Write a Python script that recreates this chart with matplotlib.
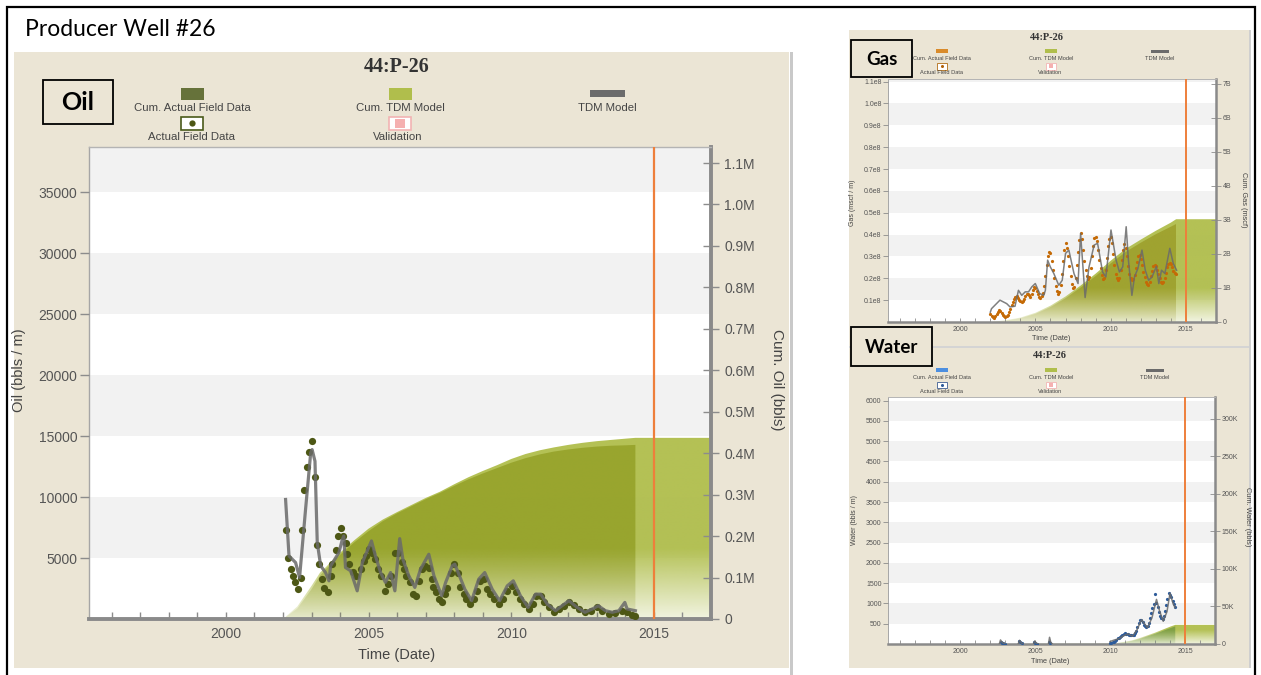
import numpy as np
import matplotlib
matplotlib.use("Agg")
import matplotlib.pyplot as plt
import matplotlib.transforms as mtransforms
from matplotlib.patches import Rectangle
from matplotlib.lines import Line2D
from matplotlib.colors import to_rgb

plt.rcParams['font.family'] = ['Liberation Sans', 'DejaVu Sans']

##################### PLOT SETTINGS #####################
W, H = 1261, 675
BEIGE = '#ebe5d5'
BAND = '#f2f2f2'
TICK_GRAY = '#8c8c8c'
LABEL_GRAY = '#555555'
TEXT_GRAY = '#444444'
TDM_GREEN = '#b0be4c'
LINE_GRAY = '#6a6a6a'
CUTOFF = '#ee7f3b'
X_RANGE = (1995.2, 2017.0)
CUTOFF_YEAR = 2015

BIG = dict(fs=10, thin=1.0, thick=2.8, tw=1.0, out=6.5, inout=12, xlen=5, xpad=6,
           lpad=2, rpad=3.5, ms=5.2, lw=2.3, cut=1.6)
SMALL = dict(fs=5, thin=0.7, thick=1.8, tw=0.6, out=3.6, inout=7, xlen=3, xpad=3,
             lpad=1, rpad=1.5, ms=2.3, lw=1.1, cut=1.4)
###################################################################

# ---------------- Oil (bbls / month, cumulative bbls) ----------------
oil_t = [2002.09, 2002.18, 2002.27, 2002.35, 2002.42, 2002.53, 2002.62, 2002.67, 2002.74, 2002.84,
         2002.91, 2003.00, 2003.12, 2003.20, 2003.26, 2003.35, 2003.43, 2003.59, 2003.67, 2003.73,
         2003.87, 2003.94, 2004.02, 2004.10, 2004.19, 2004.25, 2004.33, 2004.45, 2004.57, 2004.72,
         2004.84, 2004.92, 2005.01, 2005.13, 2005.24, 2005.34, 2005.45, 2005.57, 2005.69, 2005.77,
         2005.92, 2006.04, 2006.16, 2006.24, 2006.32, 2006.44, 2006.55, 2006.65, 2006.76, 2006.88,
         2006.97, 2007.11, 2007.21, 2007.25, 2007.37, 2007.46, 2007.56, 2007.67, 2007.76, 2007.87,
         2007.99, 2008.14, 2008.22, 2008.34, 2008.42, 2008.57, 2008.69, 2008.81, 2008.92, 2009.04,
         2009.16, 2009.27, 2009.39, 2009.57, 2009.71, 2009.86, 2010.01, 2010.15, 2010.29, 2010.44,
         2010.62, 2010.76, 2010.87, 2011.03, 2011.14, 2011.32, 2011.49, 2011.67, 2011.84, 2012.02,
         2012.19, 2012.37, 2012.58, 2012.78, 2013.01, 2013.19, 2013.42, 2013.65, 2013.89, 2014.06,
         2014.24, 2014.35]
oil_q = [7270, 5040, 4090, 3540, 3050, 2450, 3350, 7270, 10570, 12470,
         13700, 14570, 11660, 6050, 4490, 3270, 2560, 2180, 3490, 4550,
         5640, 6810, 7460, 6810, 6260, 5310, 4550, 3890, 3540, 4090,
         4770, 5170, 5720, 5450, 4900, 4090, 3540, 2310, 2860, 3490,
         5390, 5450, 4710, 4090, 3540, 3000, 2040, 1910, 3130, 4090,
         4360, 4220, 3270, 2640, 2180, 1630, 1360, 2040, 2510, 3810,
         4490, 3810, 2590, 2040, 1630, 1230, 1630, 2310, 3130, 3270,
         2450, 2040, 1630, 1230, 1630, 2310, 2720, 2180, 1630, 1230,
         820, 1230, 1910, 1910, 1360, 950, 600, 820, 1090, 1420,
         1140, 820, 550, 680, 950, 680, 410, 490, 680, 550,
         330, 270]

oil_tdm_t = [2002.09, 2002.21, 2002.44, 2002.58, 2002.79, 2002.97, 2003.02, 2003.12, 2003.20, 2003.32,
             2003.49, 2003.61, 2003.67, 2003.96, 2004.08, 2004.13, 2004.19, 2004.37, 2004.60, 2004.78,
             2004.95, 2005.10, 2005.24, 2005.42, 2005.59, 2005.77, 2005.92, 2006.09, 2006.20, 2006.41,
             2006.62, 2006.82, 2007.11, 2007.29, 2007.56, 2007.70, 2007.93, 2008.02, 2008.16, 2008.37,
             2008.61, 2008.86, 2009.07, 2009.33, 2009.59, 2009.86, 2010.07, 2010.32, 2010.59, 2010.85,
             2011.03, 2011.26, 2011.55, 2011.78, 2012.02, 2012.31, 2012.58, 2012.84, 2013.05, 2013.30,
             2013.54, 2013.77, 2013.98, 2014.06, 2014.35]
oil_tdm_q = [9800, 5170, 4630, 3400, 8990, 13620, 13890, 12940, 6260, 4360,
             3810, 3130, 4360, 5450, 6540, 6810, 4220, 3950, 2310, 4630,
             5580, 6400, 5170, 3810, 3000, 3810, 2310, 6590, 4900, 3540,
             2590, 4090, 5310, 3540, 1910, 3000, 4360, 4490, 3680, 2450,
             1500, 3270, 3810, 2450, 1500, 2720, 3130, 1910, 950, 2040,
             2040, 1230, 680, 1090, 1500, 950, 550, 820, 1090, 680,
             550, 680, 1360, 820, 680]

oil_cum_t = [2002.0, 2002.5, 2003.0, 2003.3, 2003.5, 2004.0, 2004.5, 2005.0, 2005.5, 2006.0,
             2006.5, 2007.0, 2007.5, 2008.0, 2008.5, 2009.0, 2009.5, 2010.0, 2010.5, 2011.0,
             2011.5, 2012.0, 2012.5, 2013.0, 2013.5, 2014.0, 2014.35, 2017.0]
oil_cum_tdm = [0, 30e3, 80e3, 112e3, 125e3, 160e3, 190e3, 218e3, 240e3, 258e3,
               275e3, 292e3, 307e3, 325e3, 342e3, 357e3, 371e3, 386e3, 398e3, 407e3,
               414e3, 420e3, 425e3, 429e3, 432e3, 435e3, 437e3, 437e3]
oil_cum_act = [0, 25e3, 72e3, 105e3, 120e3, 155e3, 185e3, 212e3, 236e3, 255e3,
               272e3, 289e3, 304e3, 321e3, 337e3, 351e3, 364e3, 377e3, 388e3, 397e3,
               404e3, 409e3, 413e3, 416e3, 418e3, 419e3, 420e3]

# ---------------- Gas (mscf / month, cumulative mscf) ----------------
# monthly values from Jan 2002, in millions of mscf
gas_q_mm = [3.6, 2.8, 2.2, 2.0, 2.6, 3.6, 4.6, 5.4, 5.0, 4.2, 3.4, 2.8,
            2.4, 2.6, 3.4, 4.6, 6.0, 7.6, 9.0, 10.4, 11.4, 11.8, 11.0, 10.2,
            9.4, 9.0, 9.6, 10.6, 11.8, 12.6, 13.0, 12.4, 11.6, 12.8, 14.6, 16.2,
            15.4, 14.0, 12.6, 11.6, 11.0, 11.8, 13.4, 16.6, 21.0, 26.0, 30.4, 32.0,
            31.5, 28.0, 24.0, 20.0, 16.5, 14.0, 12.8, 13.5, 17.0, 22.0, 28.0, 33.0,
            36.0, 34.0, 30.0, 25.5, 21.0, 17.5, 15.5, 16.0, 20.0, 26.0, 32.0, 37.5,
            40.5, 38.0, 33.0, 28.0, 24.0, 21.0, 19.5, 20.5, 24.5, 30.0, 35.0, 38.5,
            39.0, 37.0, 33.0, 28.5, 24.5, 21.5, 19.5, 20.0, 24.0, 29.5, 35.0, 38.0,
            39.0, 36.0, 31.0, 26.0, 22.0, 20.0, 19.0, 20.0, 24.0, 28.5, 33.0, 35.5,
            34.0, 30.0, 25.5, 22.0, 20.0, 19.0, 19.5, 21.5, 24.5, 27.5, 30.0, 30.5,
            29.0, 26.0, 23.0, 20.5, 18.5, 17.5, 17.0, 18.5, 21.0, 23.5, 25.5, 26.0,
            25.5, 24.0, 22.0, 20.0, 18.5, 18.0, 18.5, 20.0, 22.5, 25.0, 26.5, 27.0,
            26.5, 25.0, 23.5, 22.5, 22.0]
gas_t = 2002 + np.arange(len(gas_q_mm)) / 12
gas_q = np.array(gas_q_mm) * 1e6

gas_tdm_t = [2002.00, 2002.08, 2002.64, 2003.09, 2003.31, 2003.64, 2003.87, 2004.09, 2004.32, 2004.54,
             2004.76, 2004.99, 2005.28, 2005.55, 2005.66, 2005.81, 2005.99, 2006.22, 2006.55, 2006.78,
             2007.00, 2007.22, 2007.56, 2007.83, 2008.00, 2008.30, 2008.56, 2008.90, 2009.13, 2009.46,
             2009.68, 2010.02, 2010.36, 2010.58, 2010.80, 2011.03, 2011.18, 2011.41, 2011.58, 2011.81,
             2012.08, 2012.30, 2012.52, 2012.75, 2013.04, 2013.20, 2013.38, 2013.60, 2013.93, 2014.16,
             2014.38]
gas_tdm_mm = [4.5, 6.1, 10.0, 8.4, 6.9, 7.2, 14.5, 12.2, 13.8, 13.8,
              16.1, 17.6, 13.0, 12.2, 14.5, 28.3, 25.2, 22.2, 16.8, 19.1,
              31.4, 32.9, 22.2, 17.6, 40.5, 11.2, 25.2, 35.2, 36.0, 22.9,
              20.6, 42.1, 28.3, 22.9, 25.2, 43.6, 28.3, 12.2, 20.6, 24.5,
              32.9, 23.7, 19.1, 20.6, 25.5, 17.6, 23.7, 22.2, 33.7, 26.8,
              23.7]
gas_tdm_q = np.array(gas_tdm_mm) * 1e6

gas_cum_t = [2002.0, 2003.0, 2004.0, 2005.0, 2006.0, 2007.0, 2008.0, 2009.0, 2010.0, 2011.0,
             2012.0, 2013.0, 2014.0, 2014.35, 2017.0]
gas_cum_tdm = [0, 0.05e9, 0.13e9, 0.27e9, 0.48e9, 0.75e9, 1.07e9, 1.42e9, 1.80e9, 2.15e9,
               2.42e9, 2.68e9, 2.92e9, 3.02e9, 3.02e9]
gas_cum_act = [0, 0.04e9, 0.11e9, 0.24e9, 0.44e9, 0.70e9, 1.01e9, 1.35e9, 1.72e9, 2.06e9,
               2.33e9, 2.58e9, 2.80e9, 2.88e9]

# ---------------- Water (bbls / month, cumulative bbls) ----------------
water_early_t = [2002.70, 2002.78, 2002.87, 2002.95, 2003.03, 2003.95, 2004.03, 2004.12,
                 2004.95, 2005.03, 2005.12, 2005.95, 2006.03]
water_early_q = [60, 30, 15, 8, 5, 70, 40, 15, 50, 30, 10, 40, 15]
# monthly values from Jan 2010
water_late_q = [20, 30, 40, 60, 80, 110, 140, 160, 180, 200, 230, 250,
                260, 250, 240, 230, 220, 215, 220, 230, 260, 320, 420, 520,
                600, 580, 540, 480, 440, 420, 450, 520, 640, 760, 880, 980,
                1230, 1000, 900, 800, 700, 650, 620, 700, 820, 950, 1100, 1250,
                1200, 1150, 1050, 980, 920]
water_t = np.concatenate([water_early_t, 2010 + np.arange(len(water_late_q)) / 12])
water_q = np.concatenate([water_early_q, water_late_q])

nan = np.nan
water_tdm_t = [2002.62, 2002.70, 2002.80, 2002.92, 2003.02, nan,
               2003.88, 2003.97, 2004.08, 2004.20, nan,
               2004.90, 2004.98, 2005.08, 2005.20, nan,
               2005.90, 2005.97, 2006.05, 2006.15, nan,
               2010.00, 2010.30, 2010.60, 2010.90, 2011.20, 2011.50, 2011.80, 2012.10, 2012.50,
               2012.80, 2013.10, 2013.30, 2013.55, 2013.80, 2014.00, 2014.20, 2014.33]
water_tdm_q = [0, 100, 45, 15, 0, nan,
               0, 90, 35, 0, nan,
               0, 75, 25, 0, nan,
               0, 165, 45, 0, nan,
               60, 100, 130, 200, 250, 190, 350, 600, 400,
               650, 1100, 820, 560, 800, 1250, 1000, 900]

water_cum_t = [2002.7, 2006.2, 2010.0, 2010.5, 2011.0, 2011.5, 2012.0, 2012.5, 2013.0, 2013.5,
               2014.0, 2014.35, 2017.0]
water_cum_tdm = [0, 800, 1000, 1500, 3000, 5000, 8000, 11500, 15000, 19000, 23000, 25500, 25500]
water_cum_act = [0, 600, 800, 1200, 2500, 4300, 7000, 10300, 13600, 17300, 21000, 23500]


fig = plt.figure(figsize=(W / 100, H / 100), dpi=100)


def px_rect(x0, y0, x1, y1):
    return [x0 / W, 1 - y1 / H, (x1 - x0) / W, (y1 - y0) / H]


def fig_box(x0, y0, x1, y1, **kw):
    fig.add_artist(Rectangle((x0 / W, 1 - y1 / H), (x1 - x0) / W, (y1 - y0) / H,
                             transform=fig.transFigure, **kw))


def fig_text(x, y, s, **kw):
    kw.setdefault('ha', 'center')
    kw.setdefault('va', 'center')
    fig.text(x / W, 1 - y / H, s, **kw)


def gradient_area(ax, t, cum, color, alpha, fade, z):
    # area under the cumulative curve, fading out towards zero
    poly = ax.fill_between(t, 0, cum, facecolor='none', edgecolor='none')
    top = max(cum)
    n = 256
    levels = np.linspace(top, 0, n)
    img = np.zeros((n, 1, 4))
    img[..., :3] = to_rgb(color)
    img[:, 0, 3] = alpha * (0.18 + 0.82 * np.clip(levels / fade, 0, 1))
    im = ax.imshow(img, extent=[t[0], t[-1], 0, top], aspect='auto', zorder=z,
                   interpolation='bilinear')
    im.set_clip_path(poly.get_paths()[0], transform=ax.transData)


def chart(rect, st, rate_max, cum_max, band, rate_ticks, rate_fmt, cum_ticks, cum_fmt,
          tdm_t, tdm_cum, act_t, act_cum, act_color, fade,
          dot_t, dot_q, dot_color, line_t, line_q):
    ax = fig.add_axes(px_rect(*rect))
    rax = ax.twinx()
    ax.yaxis.tick_right()
    rax.yaxis.tick_left()
    ax.set_facecolor('white')

    # alternating horizontal bands, spaced in rate units
    band_tr = mtransforms.blended_transform_factory(ax.transAxes, rax.transData)
    for i, lo in enumerate(np.arange(0, rate_max, band)):
        if i % 2:
            ax.add_patch(Rectangle((0, lo), 1, band, transform=band_tr,
                                   facecolor=BAND, edgecolor='none', zorder=0))

    gradient_area(ax, tdm_t, tdm_cum, TDM_GREEN, 0.95, fade, 1)
    gradient_area(ax, act_t, act_cum, act_color, 0.5, fade, 2)
    ax.axvline(CUTOFF_YEAR, color=CUTOFF, lw=st['cut'], zorder=4)

    rax.plot(dot_t, dot_q, 'o', ms=st['ms'], color=dot_color, mec='none', zorder=2)
    rax.plot(line_t, line_q, color=LINE_GRAY, lw=st['lw'], alpha=0.85, zorder=3,
             solid_joinstyle='round')

    ax.set_xlim(*X_RANGE)
    ax.set_ylim(0, cum_max)
    rax.set_ylim(0, rate_max)

    ax.set_xticks([2000, 2005, 2010, 2015])
    ax.set_xticks(range(1996, 2017), minor=True)
    ax.tick_params(axis='x', which='both', direction='in', length=st['xlen'], width=st['tw'],
                   color=TICK_GRAY, labelsize=st['fs'], labelcolor=LABEL_GRAY, pad=st['xpad'])
    ax.set_yticks(cum_ticks)
    ax.yaxis.set_major_formatter(cum_fmt)
    ax.tick_params(axis='y', direction='inout', length=st['inout'], width=st['tw'],
                   color=TICK_GRAY, labelsize=st['fs'], labelcolor=LABEL_GRAY, pad=st['rpad'])
    rax.set_yticks(rate_ticks)
    rax.yaxis.set_major_formatter(rate_fmt)
    rax.tick_params(axis='y', direction='out', length=st['out'], width=st['tw'],
                    color=TICK_GRAY, labelsize=st['fs'], labelcolor=LABEL_GRAY, pad=st['lpad'])

    for s in rax.spines.values():
        s.set_visible(False)
    ax.spines['left'].set(color='#a6a6a6', lw=st['thin'])
    ax.spines['top'].set(color='#b4b4b4', lw=st['thin'])
    ax.spines['right'].set(color='#8a8a8a', lw=st['thick'])
    ax.spines['bottom'].set(color='#8a8a8a', lw=st['thick'])
    return ax, rax


def legend_block(cx, y0, s, fs, sw_h, cum_color, dot_color, edge_color):
    c1, c2, c3 = cx
    fig_box(c1 - 11.5 * s, y0, c1 + 11.5 * s, y0 + sw_h, facecolor=cum_color, edgecolor='none')
    fig_box(c2 - 11.5 * s, y0, c2 + 11.5 * s, y0 + sw_h, facecolor=TDM_GREEN, edgecolor='none')
    fig_box(c3 - 17.5 * s, y0 + 2 * s, c3 + 17.5 * s, y0 + 9 * s, facecolor='#6b6b6b',
            edgecolor='none')
    for c, lab in zip(cx, ['Cum. Actual Field Data', 'Cum. TDM Model', 'TDM Model']):
        fig_text(c, y0 + 20 * s, lab, fontsize=fs, color=TEXT_GRAY)

    fig_box(c1 - 11 * s, y0 + 28.7 * s, c1 + 11 * s, y0 + 42 * s, facecolor='white',
            edgecolor=edge_color, lw=1.2 * s)
    fig.add_artist(Line2D([c1 / W], [1 - (y0 + 35.3 * s) / H], marker='o', ms=4.5 * s,
                          color=dot_color, mec='none', transform=fig.transFigure))
    fig_box(c2 - 11 * s, y0 + 28.7 * s, c2 + 11 * s, y0 + 42 * s, facecolor='white',
            edgecolor='#f2b3b3', lw=1.2 * s)
    fig_box(c2 - 5 * s, y0 + 31.5 * s, c2 + 5 * s, y0 + 39.5 * s, facecolor='#f5b0b0',
            edgecolor='none')
    fig_text(c1, y0 + 48.7 * s, 'Actual Field Data', fontsize=fs, color=TEXT_GRAY)
    fig_text(c2 - 2 * s, y0 + 48.7 * s, 'Validation', fontsize=fs, color=TEXT_GRAY)


def tag_box(x0, y0, x1, y1, label, size):
    fig_box(x0, y0, x1, y1, facecolor=BEIGE, edgecolor='black', lw=1.3, zorder=2)
    fig_text((x0 + x1) / 2, (y0 + y1) / 2 + 1, label, fontsize=size, fontweight='bold',
             family='Lato', zorder=3)


def zero_or(fmt):
    return lambda v, pos: '0' if v == 0 else fmt(v)


# panel backgrounds and frame
fig_box(14, 52, 789, 668, facecolor=BEIGE, edgecolor='none', zorder=-2)
fig_box(790, 52, 793, 675, facecolor='#c9c9c9', edgecolor='none', zorder=-2)
fig_box(849, 30, 1249, 346, facecolor=BEIGE, edgecolor='none', zorder=-2)
fig_box(849, 346, 1249, 348, facecolor='#d4d4d4', edgecolor='none', zorder=-2)
fig_box(849, 348, 1249, 668, facecolor=BEIGE, edgecolor='none', zorder=-2)
fig_box(1249, 30, 1251, 668, facecolor='#cfcfcf', edgecolor='none', zorder=-2)
fig_box(7, 7, 1255, 700, facecolor='none', edgecolor='black', lw=1.6, zorder=5)

fig_text(25, 30, 'Producer Well #26', ha='left', fontsize=16.5, family='Lato', color='black')

# ---------------- Oil panel ----------------
chart((89, 147, 711, 619), BIG, 38700, 1.1386e6, 5000,
      np.arange(5000, 35001, 5000), lambda v, pos: f'{v:.0f}',
      np.arange(0, 1.1e6 + 1, 1e5), zero_or(lambda v: f'{v / 1e6:.1f}M'),
      oil_cum_t, oil_cum_tdm, oil_cum_t[:-1], oil_cum_act, '#7e8a08', 170e3,
      oil_t, oil_q, '#4d5715', oil_tdm_t, oil_tdm_q)
fig_text(397, 67, '44:P-26', fontsize=14.5, fontweight='bold', family='Liberation Serif',
         color='#333333')
legend_block((192, 400, 607), 88, 1.0, 8.2, 12, '#66723a', '#4d5715', '#4a5a1a')
tag_box(43, 80, 113, 124, 'Oil', 18)
fig_text(397, 655, 'Time (Date)', fontsize=10.5, color=TEXT_GRAY)
fig_text(19, 370, 'Oil (bbls / m)', fontsize=10.5, rotation=90, color=TEXT_GRAY)
fig_text(777, 380, 'Cum. Oil (bbls)', fontsize=11, rotation=270, color=TEXT_GRAY)

# ---------------- Gas panel ----------------
chart((888, 79, 1216, 322), SMALL, 1.112e8, 7.14e9, 1e7,
      np.arange(1e7, 1.1e8 + 1, 1e7), lambda v, pos: f'{v / 1e8:.1f}e8',
      np.arange(0, 7e9 + 1, 1e9), zero_or(lambda v: f'{v / 1e9:.0f}B'),
      gas_cum_t, gas_cum_tdm, gas_cum_t[:-1], gas_cum_act, '#8c860c', 1.0e9,
      gas_t, gas_q, '#c46a06', gas_tdm_t, gas_tdm_q)
fig_text(1047, 37.3, '44:P-26', fontsize=7.5, fontweight='bold', family='Liberation Serif',
         color='#333333')
legend_block((942, 1051, 1160), 49, 0.49, 4.1, 4, '#d98b2b', '#b0620a', '#b06a10')
tag_box(851, 40, 912, 77, 'Gas', 13.5)
fig_text(1051, 339, 'Time (Date)', fontsize=5.3, color=TEXT_GRAY)
fig_text(853, 203, 'Gas (mscf / m)', fontsize=5, rotation=90, color=TEXT_GRAY)
fig_text(1243, 200, 'Cum. Gas (mscf)', fontsize=5.3, rotation=270, color=TEXT_GRAY)

# ---------------- Water panel ----------------
chart((888, 397, 1215, 644), SMALL, 6090, 329e3, 500,
      np.arange(500, 6001, 500), lambda v, pos: f'{v:.0f}',
      np.arange(0, 300e3 + 1, 50e3), zero_or(lambda v: f'{v / 1e3:.0f}K'),
      water_cum_t, water_cum_tdm, water_cum_t[:-1], water_cum_act, '#4e8234', 18e3,
      water_t, water_q, '#2d5b9a', water_tdm_t, water_tdm_q)
fig_text(1050, 355.7, '44:P-26', fontsize=7.5, fontweight='bold', family='Liberation Serif',
         color='#333333')
legend_block((942, 1051, 1155), 367.7, 0.49, 4.1, 4, '#4d8fe0', '#2d5b9a', '#3a5a90')
tag_box(851, 327, 932, 366, 'Water', 13.5)
fig_text(1050, 661.7, 'Time (Date)', fontsize=5.3, color=TEXT_GRAY)
fig_text(855, 520, 'Water (bbls / m)', fontsize=5, rotation=90, color=TEXT_GRAY)
fig_text(1247, 517, 'Cum. Water (bbls)', fontsize=5.3, rotation=270, color=TEXT_GRAY)

fig.savefig('out.png', dpi=100)
